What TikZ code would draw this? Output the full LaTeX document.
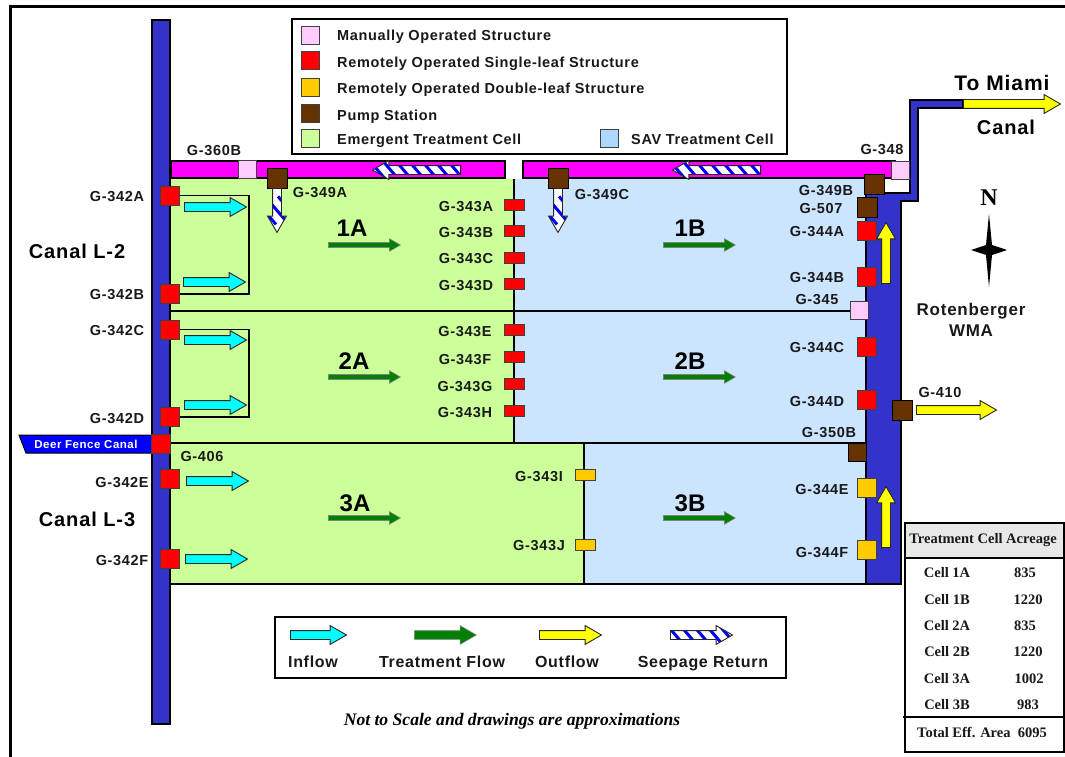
\documentclass[tikz,border=0pt]{standalone}
\usepackage{fontspec}
\setmainfont{Liberation Sans}
\newfontfamily\gatefont[LetterSpace=4.5]{Liberation Sans}
\newfontfamily\serifface{Liberation Serif}
\definecolor{canalblue}{RGB}{51, 51, 204}
\definecolor{barmagenta}{RGB}{255, 0, 255}
\definecolor{manualpink}{RGB}{255, 204, 255}
\definecolor{doubleorange}{RGB}{255, 204, 0}
\definecolor{pumpbrown}{RGB}{102, 51, 0}
\definecolor{cellgreen}{RGB}{204, 255, 153}
\definecolor{cellblue}{RGB}{204, 229, 255}
\definecolor{savblue}{RGB}{173, 216, 255}
\definecolor{flowgreen}{RGB}{0, 128, 0}
\definecolor{inflowcyan}{RGB}{0, 255, 255}
\definecolor{outyellow}{RGB}{255, 255, 0}
\definecolor{stripeblue}{RGB}{0, 0, 255}
\definecolor{tablegray}{RGB}{232, 232, 232}
\usetikzlibrary{shapes.arrows, calc}

\begin{document}
\begin{tikzpicture}[
  x=1pt, y=-1pt,
  gate/.style={draw=black!75, line width=1pt, inner sep=0pt, minimum width=19pt, minimum height=19pt},
  redgate/.style={gate, fill=red},
  orangegate/.style={gate, fill=doubleorange},
  pinkgate/.style={gate, fill=manualpink, minimum width=18pt, minimum height=18pt},
  pumpgate/.style={gate, fill=pumpbrown, draw=black, minimum width=20pt, minimum height=20pt},
  smallred/.style={redgate, minimum width=20pt, minimum height=11pt},
  smallorange/.style={orangegate, minimum width=20pt, minimum height=11pt},
  swatch/.style={gate, minimum width=18pt, minimum height=18pt},
  gatelabel/.style={font=\gatefont\fontsize{14.5}{15}\selectfont\bfseries, text=black!90, inner sep=0pt, text height=10.5pt, text depth=0pt},
  keylabel/.style={gatelabel, anchor=west},
  flowlabel/.style={gatelabel, font=\gatefont\fontsize{16}{17}\selectfont\bfseries, text height=11.5pt},
  canallabel/.style={font=\gatefont\fontsize{20}{22}\selectfont\bfseries, inner sep=0pt},
  celllabel/.style={font=\fontsize{24}{26}\selectfont\bfseries, inner sep=0pt},
  tabletext/.style={font=\serifface\fontsize{14.5}{16}\selectfont\bfseries, text=black!90, inner sep=0pt},
  blockarrow/.style={single arrow, draw=black!85, line width=0.9pt, inner sep=4pt, anchor=tail,
    single arrow tip angle=60, single arrow head extend=5pt},
  inflow/.style={blockarrow, fill=inflowcyan, minimum height=62pt},
  treatflow/.style={blockarrow, fill=flowgreen, draw=black!50, line width=0.6pt, minimum height=72pt, inner sep=2.2pt, single arrow head extend=3.8pt},
  outflow/.style={blockarrow, fill=outyellow},
  seepage/.style={blockarrow, fill=white,
    path picture={
      \foreach \k in {-5,...,5}
        \draw[stripeblue, line width=3pt] ($(path picture bounding box.center)+(\k*13pt-12pt,14pt)$) -- ++(24pt,-28pt);
    }},
  keybox/.style={draw=black, line width=2pt, fill=white}
]
  \useasboundingbox (0,0) rectangle (1065,757);
  % page frame
  \draw[line width=3pt] (10,757) -- (10,7) -- (1065,7);

  % treatment cells
  \fill[cellgreen] (170,179) rectangle (514,443);
  \fill[cellgreen] (170,443) rectangle (584,584);
  \fill[cellblue] (514,179) rectangle (866,443);
  \fill[cellblue] (584,443) rectangle (866,584);
  \draw[line width=2pt] (170,311) -- (866,311);
  \draw[line width=2pt] (170,443) -- (866,443);
  \draw[line width=2pt] (514,179) -- (514,443);
  \draw[line width=1.5pt] (584,443) -- (584,584);
  \draw[line width=2pt] (170,584) -- (866,584);

  % canals and seepage bars
  \draw[line width=1.5pt, fill=canalblue] (152,20) rectangle (170,724);
  \draw[line width=1.5pt, fill=barmagenta] (171,161) rectangle (505,178);
  \draw[line width=1.5pt, fill=barmagenta] (523,161) rectangle (895,178);
  \draw[line width=2pt, fill=canalblue] (866,193) -- (910,193) -- (910,100) -- (963,100) -- (963,108)
    -- (918,108) -- (918,201) -- (901,201) -- (901,584) -- (866,584) -- cycle;
  \draw[line width=1pt, fill=blue] (19,435) -- (152,435) -- (152,453) -- (26,453) -- cycle;
  \node[font=\gatefont\fontsize{11.5}{13}\selectfont\bfseries, text=white, inner sep=0pt] (deerfence) at (86,444) {Deer Fence Canal};

  % west gates
  \foreach \name/\xx/\yy in {g342a/169.5/195.5, g342b/169.5/294, g342c/169.5/329.5, g342d/170/417, g406/160.5/444, g342e/170/479, g342f/170/558.5}
    \node[redgate] (\name) at (\xx,\yy) {};
  \draw[line width=1.2pt] (g342a.east) -- ++(69.5,0) |- (g342b.east);
  \draw[line width=1.2pt] (g342c.east) -- ++(69.5,0) |- (g342d.east);

  % gates between cells
  \foreach \name/\yy in {a/205, b/231, c/258, d/284, e/330, f/357, g/384, h/411}
    \node[smallred] (g343\name) at (514,\yy) {};
  \node[smallorange] (g343i) at (585,474.5) {};
  \node[smallorange] (g343j) at (585,545) {};

  % east gates
  \foreach \name/\yy in {g344a/231, g344b/277, g344c/347, g344d/400}
    \node[redgate] (\name) at (867,\yy) {};
  \node[orangegate] (g344e) at (867,488) {};
  \node[orangegate] (g344f) at (867,550) {};

  % pumps and manual structures
  \node[pinkgate] (g360b) at (247,169.5) {};
  \node[pinkgate] (g348) at (900,170.5) {};
  \node[pinkgate] (g345) at (859,310.5) {};
  \node[pumpgate] (g349a) at (277,178) {};
  \node[pumpgate] (g349c) at (558,178) {};
  \node[pumpgate] (g349b) at (874,184) {};
  \node[pumpgate] (g507) at (867,207) {};
  \node[pumpgate] (g410) at (902,410) {};
  \node[pumpgate, minimum height=18pt, minimum width=18pt] (g350b) at (857,452.5) {};

  % flow arrows
  \foreach \name/\xx/\yy in {ina/184/207, inb/183/282, inc/184/340, ind/184/405, ine/186/481, inf/185/559}
    \node[inflow] (\name) at (\xx,\yy) {};
  \foreach \name/\xx/\yy in {one/328/245, oneb/663/245, two/328/377, twob/663/377, three/328/518, threeb/663/518}
    \node[treatflow] (\name) at (\xx,\yy) {};
  \node[outflow, minimum height=97pt] (outmiami) at (963,104) {};
  \node[outflow, minimum height=80pt] (outwma) at (916,410) {};
  \node[outflow, minimum height=61pt, shape border rotate=90] (upnorth) at (886,284) {};
  \node[outflow, minimum height=61pt, shape border rotate=90] (upsouth) at (886,548) {};
  \node[seepage, minimum height=44pt, shape border rotate=270] (seepa) at (277,188) {};
  \node[seepage, minimum height=44pt, shape border rotate=270] (seepc) at (558,188) {};
  \node[seepage, minimum height=88pt, shape border rotate=180] (seepw) at (461,170) {};
  \node[seepage, minimum height=88pt, shape border rotate=180] (seepe) at (761,170) {};

  % gate labels
  \foreach \name/\xx/\yy/\txt in {l360b/214/150/G-360B, l342a/117/196/G-342A, l342b/117/294/G-342B, l342c/117/330/G-342C,
      l342d/117/418/G-342D, l342e/122/482/G-342E, l342f/122/560/G-342F, l406/202/456/G-406,
      l349a/320/192/G-349A, l349c/602/194/G-349C,
      l343a/466/206/G-343A, l343b/466/232/G-343B, l343c/466/258/G-343C, l343d/466/285/G-343D,
      l343e/465/331/G-343E, l343f/465/359/G-343F, l343g/465/386/G-343G, l343h/465/412/G-343H,
      l343i/539/476/G-343I, l343j/539/545/G-343J,
      l344a/817/231/G-344A, l344b/817/277/G-344B, l344c/817/347/G-344C, l344d/817/401/G-344D,
      l344e/822/489/G-344E, l344f/822/552/G-344F, l345/817/299/G-345, l349b/826/190/G-349B,
      l507/821/208/G-507, l348/882/149/G-348, l350b/829/432/G-350B, l410/940/392/G-410}
    \node[gatelabel] (\name) at (\xx,\yy) {\txt};

  % cell and place names
  \foreach \name/\xx/\yy/\txt in {c1a/352/228/1A, c1b/690/228/1B, c2a/354/361/2A, c2b/690/361/2B, c3a/355/503/3A, c3b/690/503/3B}
    \node[celllabel] (\name) at (\xx,\yy) {\txt};
  \node[canallabel] (canal2) at (77,251) {Canal L-2};
  \node[canallabel] (canal3) at (87,519) {Canal L-3};
  \node[canallabel, font=\gatefont\fontsize{21}{23}\selectfont\bfseries] (tomiami) at (1002,83) {To Miami};
  \node[canallabel] (canalto) at (1006,127) {Canal};
  \node[font=\gatefont\fontsize{17}{21}\selectfont\bfseries, text=black!90, inner sep=0pt, align=center] (wma) at (971,320) {Rotenberger\\WMA};

  % north mark
  \node[font=\serifface\fontsize{24}{26}\selectfont\bfseries, inner sep=0pt] (north) at (989,198) {N};
  \fill (989,214) -- (992,245) -- (1007,250) -- (992,255) -- (989,287) -- (986,255) -- (971,250) -- (986,245) -- cycle;

  % structure key
  \draw[keybox] (292,19) rectangle (787,154);
  \node[swatch, fill=manualpink] (keymanual) at (310,35.5) {};
  \node[swatch, fill=red] (keysingle) at (310,61) {};
  \node[swatch, fill=doubleorange] (keydouble) at (310,88) {};
  \node[swatch, fill=pumpbrown] (keypump) at (310,114) {};
  \node[swatch, fill=cellgreen] (keycell) at (310,138.5) {};
  \node[swatch, fill=savblue] (keysav) at (609,138.5) {};
  \foreach \name/\yy/\txt in {tmanual/35/Manually Operated Structure, tsingle/62/Remotely Operated Single-leaf Structure,
      tdouble/88/Remotely Operated Double-leaf Structure, tpump/115/Pump Station, tcell/139/Emergent Treatment Cell}
    \node[keylabel] (\name) at (337,\yy) {\txt};
  \node[keylabel] (tsav) at (631,139) {SAV Treatment Cell};

  % flow key
  \draw[keybox] (275,617) rectangle (786,678);
  \node[inflow, minimum height=56pt] (keyin) at (290,635) {};
  \node[treatflow, minimum height=62pt, inner sep=4pt, single arrow head extend=5pt] (keytreat) at (414,635) {};
  \node[outflow, minimum height=62pt] (keyout) at (539,635) {};
  \node[seepage, minimum height=62pt] (keyseep) at (670,635) {};
  \node[flowlabel] (tin) at (313,662) {Inflow};
  \node[flowlabel] (ttreat) at (442,662) {Treatment Flow};
  \node[flowlabel] (tout) at (567,662) {Outflow};
  \node[flowlabel] (tseep) at (703,662) {Seepage Return};
  \node[font=\serifface\fontsize{17.6}{19}\selectfont\bfseries\itshape, inner sep=0pt] (scalenote) at (512,721) {Not to Scale and drawings are approximations};

  % acreage table
  \draw[line width=2pt, fill=white] (905,523) rectangle (1064,752);
  \draw[line width=2pt, fill=tablegray] (905,523) rectangle (1064,558);
  \draw[line width=2pt] (903,717) -- (1064,717);
  \node[tabletext] (thead) at (983,540) {Treatment Cell Acreage};
  \foreach \name/\yy/\txt/\val/\xx in {ra/573/Cell 1A/835/1025, rb/600/Cell 1B/1220/1028, rc/626/Cell 2A/835/1025,
      rd/652/Cell 2B/1220/1028, re/679/Cell 3A/1002/1029, rf/705/Cell 3B/983/1028} {
    \node[tabletext] (\name) at (947,\yy) {\txt};
    \node[tabletext] (\name v) at (\xx,\yy) {\val};
  }
  \node[tabletext] (ttotal) at (982,732) {Total Eff. Area\ \ 6095};
\end{tikzpicture}
\end{document}
